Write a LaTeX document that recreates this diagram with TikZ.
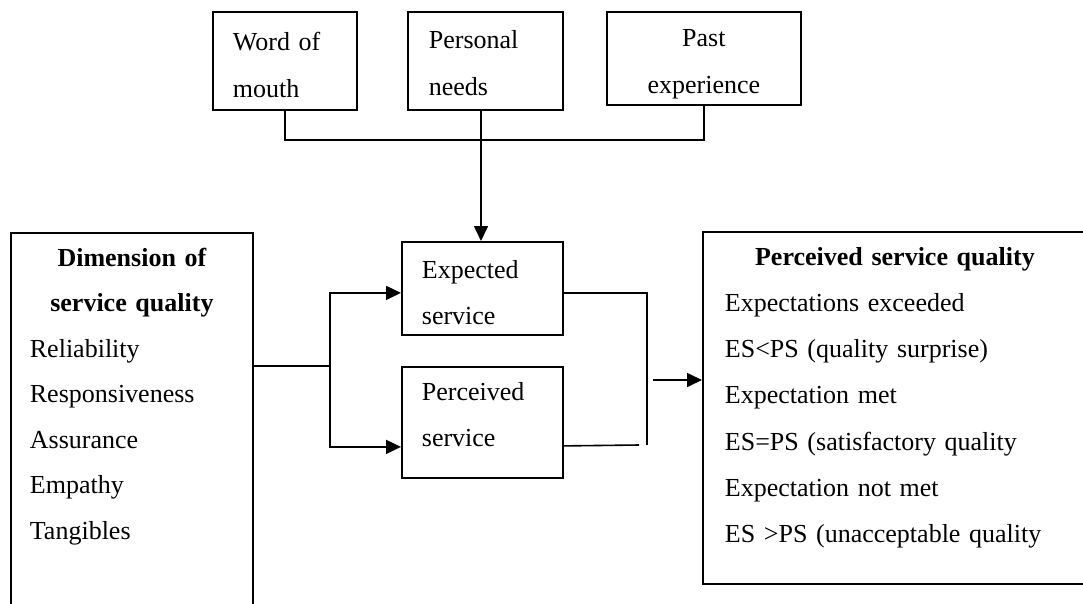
\documentclass[tikz,border=0pt]{standalone}
\usepackage{fontspec}
\setmainfont{Liberation Serif}
\usetikzlibrary{arrows.meta}

\begin{document}
\begin{tikzpicture}[x=1pt, y=-1pt,
    block/.style={rectangle, draw, line width=1.8pt, anchor=north west, inner ysep=2pt, align=left, font=\fontsize{26}{46}\selectfont},
    line/.style={draw, line width=1.6pt, -{Triangle[length=15pt,width=14pt]}},
    link/.style={draw, line width=1.6pt}
]
\useasboundingbox (0,0) rectangle (1083,603);

\node [block, minimum width=144pt, minimum height=98pt, text width=104pt, inner xsep=20pt, font=\fontsize{26}{47}\selectfont] (mouth) at (212,11) {\rule{0pt}{27pt}Word of\\mouth};
\node [block, minimum width=155pt, minimum height=98pt, text width=113pt, inner xsep=21pt, font=\fontsize{26}{47}\selectfont] (needs) at (407,11) {\rule{0pt}{23pt}Personal\\needs};
\node [block, minimum width=194pt, minimum height=93pt, text width=160pt, inner xsep=17pt, align=center, font=\fontsize{26}{47}\selectfont] (past) at (606,11) {\rule{0pt}{28pt}Past\\experience};

\node [block, minimum width=161pt, minimum height=93pt, text width=121pt, inner xsep=20pt] (expected) at (401,241) {\rule{0pt}{27pt}Expected\\service};
\node [block, minimum width=161pt, minimum height=111pt, text width=121pt, inner xsep=20pt] (perceived) at (401,366) {Perceived\\service\rule[-15pt]{0pt}{0pt}};

\node [block, minimum width=242pt, minimum height=373pt, text width=204pt, inner xsep=19pt, font=\fontsize{26}{45.5}\selectfont] (dimension) at (10,232)
  {{\centering\bfseries Dimension of\\service quality\par}
   Reliability\\Responsiveness\\Assurance\\Empathy\\Tangibles\\[6pt]\mbox{}};
\node [block, minimum width=384pt, minimum height=352pt, text width=340pt, inner xsep=22pt, font=\fontsize{26}{46.3}\selectfont] (quality) at (702,231)
  {{\centering\bfseries Perceived service quality\par}
   Expectations exceeded\\ES<PS (quality surprise)\\Expectation met\\ES=PS (satisfactory quality\\Expectation not met\\ES >PS (unacceptable quality\\[-20.3pt]\mbox{}};

\coordinate (join) at (481,140);
\coordinate (split) at (330,366);
\coordinate (merge) at (647,445);
\coordinate (out) at (653,380);

\path [link] (mouth.south) |- (join) -| (past.south);
\path [line] (join |- needs.south) -- (join |- expected.north);
\path [link] (split -| dimension.east) -- (split);
\path [line] (split) |- ([yshift=-4.5pt]expected.west);
\path [line] (split) |- ([yshift=-24.5pt]perceived.west);
\path [link] ([yshift=-4.5pt]expected.east) -| (merge);
\path [link] ([yshift=-23.5pt]perceived.east) -- ([xshift=-8pt]merge);
\path [line] (out) -- (out -| quality.west);

\end{tikzpicture}
\end{document}
